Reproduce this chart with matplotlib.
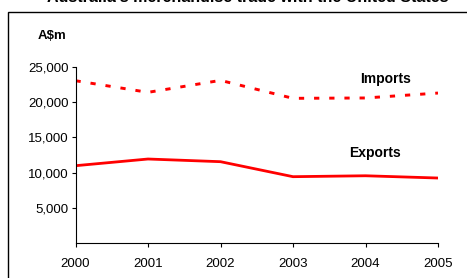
import matplotlib.pyplot as plt
from matplotlib.patches import Rectangle

plt.rcParams['font.family'] = ['Liberation Sans', 'DejaVu Sans']

years = [2000, 2001, 2002, 2003, 2004, 2005]
imports = [23050, 21400, 23100, 20550, 20600, 21300]
exports = [10980, 11930, 11550, 9420, 9550, 9230]
yticks = [5000, 10000, 15000, 20000, 25000]

W, H = 467, 278
fig = plt.figure(figsize=(W / 100, H / 100), dpi=100)

# outer frame, runs off the right and bottom edges
fig.patches.append(Rectangle((8 / W, -0.1), 1.2, 1 - 12.5 / H + 0.1,
                             transform=fig.transFigure, fill=False,
                             edgecolor='black', linewidth=1.0))

fig.text(0.53, 1 - 2.5 / H, "Australia's merchandise trade with the United States",
         ha='center', va='baseline', fontsize=11.5, fontweight='bold')
fig.text(38 / W, 1 - 36 / H, 'A$m', ha='left', va='center',
         fontsize=9.5, fontweight='bold')

ax = fig.add_axes([75.5 / W, 1 - 243 / H, (438 - 75.5) / W, (243 - 67) / H])
ax.plot(years, imports, color='red', lw=2.1, dashes=(1.8, 3.4))
ax.plot(years, exports, color='red', lw=2.0)

ax.text(2004.27, 23300, 'Imports', ha='center', va='center',
        fontsize=10, fontweight='bold')
ax.text(2004.13, 12780, 'Exports', ha='center', va='center',
        fontsize=10, fontweight='bold')

ax.set_xlim(2000, 2005)
ax.set_ylim(0, 25000)
ax.set_xticks(years)
ax.set_yticks(yticks)
ax.set_yticklabels([f'{v:,}' for v in yticks])
ax.tick_params(axis='both', labelsize=9.5, length=3, width=0.8, colors='black')
ax.tick_params(axis='x', pad=8)
ax.tick_params(axis='y', pad=2)
for s in ['top', 'right']:
    ax.spines[s].set_visible(False)
for s in ['left', 'bottom']:
    ax.spines[s].set_linewidth(0.8)

fig.savefig('out.png', dpi=100)
